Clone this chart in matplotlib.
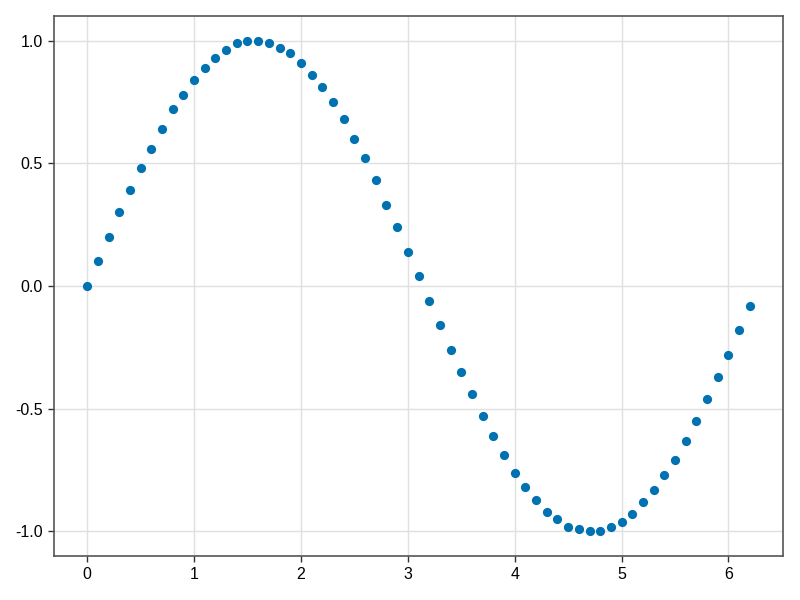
import matplotlib
matplotlib.use("Agg")
import matplotlib.pyplot as plt

x = [0.0, 0.1, 0.2, 0.3, 0.4, 0.5, 0.6, 0.7, 0.8, 0.9,
     1.0, 1.1, 1.2, 1.3, 1.4, 1.5, 1.6, 1.7, 1.8, 1.9,
     2.0, 2.1, 2.2, 2.3, 2.4, 2.5, 2.6, 2.7, 2.8, 2.9,
     3.0, 3.1, 3.2, 3.3, 3.4, 3.5, 3.6, 3.7, 3.8, 3.9,
     4.0, 4.1, 4.2, 4.3, 4.4, 4.5, 4.6, 4.7, 4.8, 4.9,
     5.0, 5.1, 5.2, 5.3, 5.4, 5.5, 5.6, 5.7, 5.8, 5.9,
     6.0, 6.1, 6.2]
y = [0.00, 0.10, 0.20, 0.30, 0.39, 0.48, 0.56, 0.64, 0.72, 0.78,
     0.84, 0.89, 0.93, 0.96, 0.99, 1.00, 1.00, 0.99, 0.97, 0.95,
     0.91, 0.86, 0.81, 0.75, 0.68, 0.60, 0.52, 0.43, 0.33, 0.24,
     0.14, 0.04, -0.06, -0.16, -0.26, -0.35, -0.44, -0.53, -0.61, -0.69,
     -0.76, -0.82, -0.87, -0.92, -0.95, -0.98, -0.99, -1.00, -1.00, -0.98,
     -0.96, -0.93, -0.88, -0.83, -0.77, -0.71, -0.63, -0.55, -0.46, -0.37,
     -0.28, -0.18, -0.08]
xticks = [0, 1, 2, 3, 4, 5, 6]
yticks = [-1.0, -0.5, 0.0, 0.5, 1.0]
ytick_labels = ["-1.0", "-0.5", "0.0", "0.5", "1.0"]

plt.rcParams['font.family'] = ['Liberation Sans', 'DejaVu Sans']

fig = plt.figure(figsize=(8, 6), dpi=100)
ax = fig.add_axes([54/800, 1-556/600, (783-54)/800, (556-16)/600])
ax.scatter(x, y, s=44, color=(0/255, 114/255, 178/255), linewidths=0, zorder=3)

ax.set_xlim(-0.31, 6.51)
ax.set_ylim(-1.1, 1.1)
ax.set_xticks(xticks)
ax.set_xticklabels([str(t) for t in xticks])
ax.set_yticks(yticks)
ax.set_yticklabels(ytick_labels)
ax.grid(True, color='#e0e0e0', linewidth=1, alpha=1.0)
ax.set_axisbelow(True)
for s in ax.spines.values():
    s.set_color('#555555')
    s.set_linewidth(1.2)
ax.tick_params(direction='out', length=4, width=1, color='#333333',
               labelsize=11.5, pad=4)
fig.savefig("out.png", dpi=100)
